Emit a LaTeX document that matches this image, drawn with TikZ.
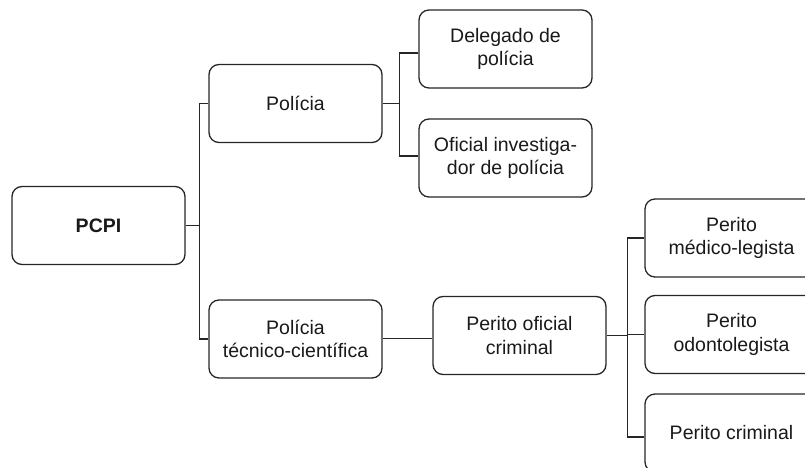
\documentclass[tikz,border=0pt]{standalone}
\usepackage{fontspec}
\setmainfont{Liberation Sans}
\begin{document}
\begin{tikzpicture}[x=1pt,y=-1pt,
  box/.style={draw=black!85, line width=1.3pt, rounded corners=10pt,
    minimum width=173pt, minimum height=78pt, align=center,
    font=\fontsize{19.5}{23.5}\selectfont, text=black!90, inner sep=2pt},
  link/.style={draw=black!85, line width=1.3pt}]
\useasboundingbox (0,0) rectangle (805,468);
\clip (0,0) rectangle (805,468);
\node[box] (pcpi) at (98.5,225.5) {\textbf{PCPI}};
\node[box] (pol) at (295.5,103.5) {Polícia};
\node[box] (tec) at (295.5,339) {Polícia\\técnico-científica};
\node[box] (del) at (505.5,49) {Delegado de\\polícia};
\node[box] (ofi) at (505.5,158) {Oficial investiga-\\dor de polícia};
\node[box] (poc) at (519.5,335.5) {Perito oficial\\criminal};
\node[box] (med) at (731.5,238) {Perito\\médico-legista};
\node[box] (odo) at (731.5,334.5) {Perito\\odontolegista};
\node[box] (cri) at (731.5,433) {Perito criminal};
\coordinate (j1) at ([xshift=14pt]pcpi.east);
\coordinate (j2) at ([xshift=17pt]pol.east);
\coordinate (j3) at ([xshift=21pt]poc.east);
\draw[link] (pcpi.east) -- (j1) |- (pol.west);
\draw[link] (j1) |- (tec.west);
\draw[link] (pol.east) -- (j2) |- ([yshift=-4pt]del.west);
\draw[link] (j2) |- ([yshift=2pt]ofi.west);
\draw[link] ([yshift=0.5pt]tec.east) -- ([yshift=0.5pt]tec.east -| poc.west);
\draw[link] (poc.east) -- (j3) |- (med.west);
\draw[link] (j3) |- (odo.west);
\draw[link] (j3) |- ([yshift=-4pt]cri.west);
\end{tikzpicture}
\end{document}
